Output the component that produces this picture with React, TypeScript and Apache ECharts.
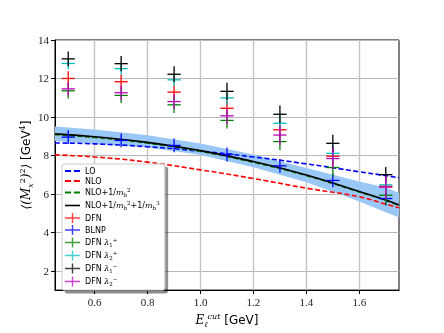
import React, { useEffect, useRef } from 'react';
import * as echarts from 'echarts';

// measurement points
const pointX = [0.5, 0.7, 0.9, 1.1, 1.3, 1.5, 1.7];
const xErrHalf = 0.025;
const dfn = [12.0, 11.83, 11.29, 10.45, 9.33, 7.96, 6.4];
const dfnErr = [0.38, 0.38, 0.38, 0.4, 0.42, 0.45, 0.5];
const blnp = [8.95, 8.78, 8.52, 8.05, 7.46, 6.7, 5.76];
const blnpErr = [0.36, 0.36, 0.36, 0.36, 0.36, 0.36, 0.36];
const dfnL1p = [11.36, 11.12, 10.63, 9.82, 8.72, 7.37, 5.93];
const dfnL1pErr = [0.4, 0.4, 0.42, 0.42, 0.45, 0.48, 0.5];
const dfnL2p = [12.78, 12.51, 11.93, 10.99, 9.67, 8.11, 6.47];
const dfnL2pErr = [0.3, 0.3, 0.32, 0.35, 0.38, 0.4, 0.42];
const dfnL1m = [13.02, 12.77, 12.22, 11.33, 10.14, 8.63, 7.0];
const dfnL1mErr = [0.38, 0.4, 0.42, 0.45, 0.45, 0.45, 0.4];
const dfnL2m = [11.46, 11.26, 10.8, 10.06, 9.06, 7.84, 6.35];
const dfnL2mErr = [0.35, 0.38, 0.4, 0.42, 0.5, 0.55, 0.6];

// theory curves
const curveX = [0.45, 0.6, 0.8, 1.0, 1.2, 1.4, 1.6, 1.7, 1.75];
const lo = [8.65, 8.6, 8.45, 8.22, 7.92, 7.56, 7.15, 6.95, 6.84];
const nlo = [8.03, 7.92, 7.65, 7.25, 6.8, 6.3, 5.85, 5.47, 5.28];
const nloMb2 = [9.08, 8.93, 8.64, 8.21, 7.64, 6.95, 6.1, 5.66, 5.4];
const nloMb3 = [9.12, 8.97, 8.68, 8.25, 7.68, 6.98, 6.12, 5.68, 5.42];
const bandUpper = [9.5, 9.35, 9.05, 8.62, 8.05, 7.35, 6.65, 6.33, 6.05];
const bandLower = [8.75, 8.6, 8.42, 8.02, 7.38, 6.6, 5.6, 5.05, 4.78];

const xTickLabels = ['0.6', '0.8', '1.0', '1.2', '1.4', '1.6'];

const legendLabels: Record<string, string> = {
  LO: '{t|LO}',
  NLO: '{t|NLO}',
  'NLO+1/m_b^2': '{t|NLO+1/}{i|m}{sub|b}{sup|2}',
  'NLO+1/m_b^2+1/m_b^3': '{t|NLO+1/}{i|m}{sub|b}{sup|2}{t|+1/}{i|m}{sub|b}{sup|3}',
  DFN: '{t|DFN}',
  BLNP: '{t|BLNP}',
  'DFN λ1+': '{t|DFN }{i|λ}{sub|1}{sup|+}',
  'DFN λ2+': '{t|DFN }{i|λ}{sub|2}{sup|+}',
  'DFN λ1−': '{t|DFN }{i|λ}{sub|1}{sup|−}',
  'DFN λ2−': '{t|DFN }{i|λ}{sub|2}{sup|−}',
};

const crossIcon = 'path://M0,4.3H15V5.7H0Z M6.8,0H8.2V10H6.8Z';
const dashIcon = 'path://M0,0H5.5V1.6H0Z M8,0H13.5V1.6H8Z';
const solidIcon = 'path://M0,0H15V1.6H0Z';

export default function App() {
  const ref = useRef<HTMLDivElement>(null);
  useEffect(() => {
    const chart = echarts.init(ref.current!, null, { renderer: 'svg' });

    const pair = (ys: number[]) => curveX.map((x, i) => [x, ys[i]]);

    const errSeries = (name: string, ys: number[], errs: number[], color: string) => ({
      name,
      type: 'custom',
      itemStyle: { color },
      encode: { x: 0, y: 1 },
      data: pointX.map((x, i) => [x, ys[i], errs[i]]),
      renderItem: (params: any, api: any) => {
        const x = api.value(0);
        const y = api.value(1);
        const e = api.value(2);
        const top = api.coord([x, y + e]);
        const bot = api.coord([x, y - e]);
        const l = api.coord([x - xErrHalf, y]);
        const r = api.coord([x + xErrHalf, y]);
        const style = { stroke: color, lineWidth: 1.3 };
        return {
          type: 'group',
          children: [
            { type: 'line', shape: { x1: l[0], y1: l[1], x2: r[0], y2: r[1] }, style },
            { type: 'line', shape: { x1: top[0], y1: top[1], x2: bot[0], y2: bot[1] }, style },
          ],
        };
      },
      z: 5,
    });

    const lineSeries = (name: string, ys: number[], color: string, dashed: boolean) => ({
      name,
      type: 'line',
      data: pair(ys),
      smooth: true,
      symbol: 'none',
      lineStyle: { color, width: 1.6, type: dashed ? [5, 2.5] : 'solid' },
      itemStyle: { color },
      z: 3,
    });

    const sub = { fontSize: 5.5, lineHeight: 6, verticalAlign: 'bottom', fontFamily: 'DejaVu Serif' };
    const sup = { fontSize: 5.5, lineHeight: 6, verticalAlign: 'top', fontFamily: 'DejaVu Serif' };
    const crossItem = (name: string) => ({ name, icon: crossIcon, itemStyle: { opacity: 0.75 } });

    chart.setOption({
      animation: false,
      grid: {
        left: 55,
        right: 45,
        top: 40,
        bottom: 37,
        show: true,
        borderColor: '#000',
        borderWidth: 1,
      },
      xAxis: {
        type: 'value',
        min: 0.45,
        max: 1.75,
        minInterval: 0.2,
        maxInterval: 0.2,
        splitNumber: 7,
        name: '{i|E}{sub|ℓ}{sup|cut}{t| [GeV]}',
        nameLocation: 'middle',
        nameGap: 12,
        nameTextStyle: {
          color: '#000',
          rich: {
            i: { fontSize: 12, fontFamily: 'DejaVu Serif', fontStyle: 'italic', lineHeight: 16 },
            sub: { fontSize: 8, fontFamily: 'DejaVu Serif', fontStyle: 'italic', lineHeight: 8, verticalAlign: 'bottom' },
            sup: { fontSize: 8, fontFamily: 'DejaVu Serif', fontStyle: 'italic', lineHeight: 8, verticalAlign: 'top' },
            t: { fontSize: 12, fontFamily: 'DejaVu Sans', lineHeight: 16 },
          },
        },
        axisLine: { show: true, lineStyle: { color: '#000', width: 1 } },
        axisTick: { show: true, inside: false, length: 4, lineStyle: { color: '#000' } },
        axisLabel: {
          showMinLabel: false,
          showMaxLabel: false,
          margin: 6,
          color: '#222',
          fontSize: 11,
          fontFamily: 'Liberation Serif',
          formatter: (v: number) => {
            const s = v.toFixed(1);
            return xTickLabels.includes(s) ? s : '';
          },
        },
        splitLine: { show: true, showMinLine: false, showMaxLine: false, lineStyle: { color: '#c4c4c4', width: 1.4 } },
      },
      yAxis: {
        type: 'value',
        min: 1,
        max: 14,
        minInterval: 2,
        maxInterval: 2,
        splitNumber: 6,
        name: '{i|⟨(M}{sub|x}{sup|2}{i|)}{sup|2}{i|⟩}{t| [GeV}{sup|4}{t|]}',
        nameLocation: 'middle',
        nameGap: 21,
        nameMoveOverlap: false,
        nameTextStyle: {
          color: '#000',
          rich: {
            i: { fontSize: 12, fontFamily: 'DejaVu Serif', fontStyle: 'italic', lineHeight: 16 },
            sub: { fontSize: 8, fontFamily: 'DejaVu Serif', fontStyle: 'italic', lineHeight: 8, verticalAlign: 'bottom' },
            sup: { fontSize: 8, fontFamily: 'DejaVu Serif', lineHeight: 8, verticalAlign: 'top' },
            t: { fontSize: 12, fontFamily: 'DejaVu Sans', lineHeight: 16 },
          },
        },
        axisLine: { show: true, lineStyle: { color: '#000', width: 1 } },
        axisTick: { show: true, inside: false, length: 4, lineStyle: { color: '#000' } },
        axisLabel: {
          showMinLabel: false,
          margin: 6,
          color: '#222',
          fontSize: 11,
          fontFamily: 'Liberation Serif',
        },
        splitLine: { show: true, showMinLine: false, lineStyle: { color: '#b8b8b8', width: 1.2 } },
      },
      legend: {
        orient: 'vertical',
        left: 62,
        top: 164,
        itemWidth: 15,
        itemHeight: 10,
        itemGap: 2,
        padding: [3, 5, 3, 3],
        backgroundColor: '#fff',
        borderColor: '#cccccc',
        borderWidth: 1,
        borderRadius: 2,
        shadowColor: 'rgba(0,0,0,0.45)',
        shadowBlur: 1,
        shadowOffsetX: 3,
        shadowOffsetY: 3,
        formatter: (name: string) => legendLabels[name] ?? name,
        textStyle: {
          color: '#000',
          fontSize: 8,
          rich: {
            t: { fontSize: 8, fontFamily: 'DejaVu Sans', lineHeight: 11 },
            i: { fontSize: 8, fontFamily: 'DejaVu Serif', fontStyle: 'italic', lineHeight: 11 },
            sub,
            sup,
          },
        },
        data: [
          { name: 'LO', icon: dashIcon },
          { name: 'NLO', icon: dashIcon },
          { name: 'NLO+1/m_b^2', icon: dashIcon },
          { name: 'NLO+1/m_b^2+1/m_b^3', icon: solidIcon },
          crossItem('DFN'),
          crossItem('BLNP'),
          crossItem('DFN λ1+'),
          crossItem('DFN λ2+'),
          crossItem('DFN λ1−'),
          crossItem('DFN λ2−'),
        ],
      },
      series: [
        {
          name: 'band',
          type: 'custom',
          data: [[curveX[0], bandUpper[0]]],
          encode: { x: 0, y: 1 },
          renderItem: (params: any, api: any) => {
            const up = curveX.map((x, i) => api.coord([x, bandUpper[i]]));
            const low = curveX.map((x, i) => api.coord([x, bandLower[i]])).reverse();
            return {
              type: 'polygon',
              shape: { points: up.concat(low) },
              style: { fill: '#99c8f6' },
            };
          },
          z: 1,
          silent: true,
        },
        lineSeries('LO', lo, '#0000ff', true),
        lineSeries('NLO', nlo, '#ff0000', true),
        lineSeries('NLO+1/m_b^2', nloMb2, '#008000', true),
        lineSeries('NLO+1/m_b^2+1/m_b^3', nloMb3, '#000000', false),
        errSeries('DFN', dfn, dfnErr, '#ff0000'),
        errSeries('BLNP', blnp, blnpErr, '#0000ff'),
        errSeries('DFN λ1+', dfnL1p, dfnL1pErr, '#008000'),
        errSeries('DFN λ2+', dfnL2p, dfnL2pErr, '#00bfbf'),
        errSeries('DFN λ1−', dfnL1m, dfnL1mErr, '#000000'),
        errSeries('DFN λ2−', dfnL2m, dfnL2mErr, '#bf00bf'),
      ],
    });
    return () => chart.dispose();
  }, []);
  return <div ref={ref} style={{ position: 'fixed', left: 0, top: 0, width: 444, height: 333 }} />;
}
